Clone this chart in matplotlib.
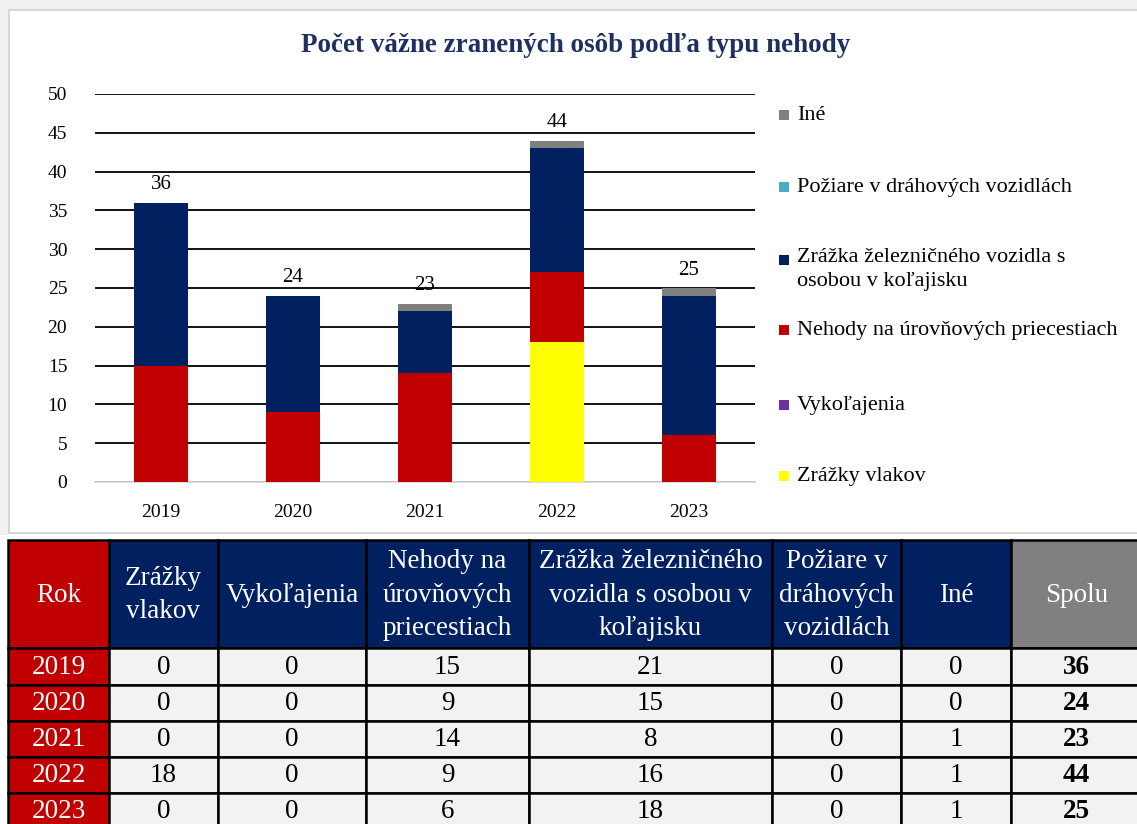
import numpy as np
import matplotlib
matplotlib.use("Agg")
import matplotlib.pyplot as plt
from matplotlib.patches import Rectangle

plt.rcParams['font.family'] = ['Liberation Serif', 'DejaVu Serif']

# data
years = ['2019', '2020', '2021', '2022', '2023']
zrazky_vlakov = [0, 0, 0, 18, 0]
vykolajenia = [0, 0, 0, 0, 0]
nehody_priecestia = [15, 9, 14, 9, 6]
zrazka_osoba = [21, 15, 8, 16, 18]
poziare = [0, 0, 0, 0, 0]
ine = [0, 0, 1, 1, 1]
spolu = [36, 24, 23, 44, 25]

series_names = ['Zrážky vlakov', 'Vykoľajenia', 'Nehody na úrovňových priecestiach',
                'Zrážka železničného vozidla s\nosobou v koľajisku',
                'Požiare v dráhových vozidlách', 'Iné']
series_vals = [zrazky_vlakov, vykolajenia, nehody_priecestia, zrazka_osoba, poziare, ine]
colors = ['#ffff00', '#7030a0', '#c00000', '#002060', '#4bacc6', '#808080']

col_heads = ['Rok', 'Zrážky\nvlakov', 'Vykoľajenia', 'Nehody na\núrovňových\npriecestiach',
             'Zrážka železničného\nvozidla s osobou v\nkoľajisku',
             'Požiare v\ndráhových\nvozidlách', 'Iné', 'Spolu']

W, H = 1137, 824
fig = plt.figure(figsize=(W / 100, H / 100), dpi=100)
fig.patch.set_facecolor('white')

# overlay in pixel coordinates (panel, title, legend, table)
ov = fig.add_axes([0, 0, 1, 1], zorder=0)
ov.set_xlim(0, W)
ov.set_ylim(H, 0)
ov.axis('off')
ov.add_patch(Rectangle((0, 0), W, 10, color='#f0f0f0', lw=0))
ov.add_patch(Rectangle((0, 0), 8, 535, color='#f0f0f0', lw=0))
ov.add_patch(Rectangle((9, 10), W, 523, facecolor='white', edgecolor='#d0d0d0', lw=1.2))

ov.text(576, 45, 'Počet vážne zranených osôb podľa typu nehody', ha='center', va='center',
        fontsize=19.5, fontweight='bold', color='#1f3060')

# chart
ax = fig.add_axes([95 / W, 1 - 482 / H, 660 / W, 388 / H], zorder=1)
ax.patch.set_alpha(0)
x = np.arange(len(years))
bottom = np.zeros(len(years))
for vals, c in zip(series_vals, colors):
    ax.bar(x, vals, 0.41, bottom=bottom, color=c, zorder=3)
    bottom += np.array(vals)
for i, t in enumerate(bottom):
    ax.text(i, t + 2.3, '%d' % t, ha='center', va='center', fontsize=15, zorder=4)

ax.set_xlim(-0.5, 4.5)
ax.set_ylim(0, 50)
ax.set_yticks(range(0, 51, 5))
ax.set_xticks(x)
ax.set_xticklabels(years)
ax.yaxis.grid(True, color='black', lw=1.3, zorder=0)
ax.set_axisbelow(True)
for s in ['top', 'right', 'left']:
    ax.spines[s].set_visible(False)
ax.spines['bottom'].set_color('#d9d9d9')
ax.spines['bottom'].set_linewidth(1.3)
ax.tick_params(length=0, labelsize=14)
ax.tick_params(axis='y', pad=20)
ax.tick_params(axis='x', pad=16)

# legend
leg_y = [115, 187, 260, 330, 405, 476]
for name, c, ly in zip(series_names[::-1], colors[::-1], leg_y):
    ov.add_patch(Rectangle((779, ly - 5), 10, 10, color=c, lw=0))
    if '\n' in name:
        ov.text(797, ly - 12, name, ha='left', va='top', fontsize=16, linespacing=1.35)
    else:
        ov.text(797, ly, name, ha='left', va='center', fontsize=16)

# table
col_edges = [8, 109, 218, 366, 529, 772, 901, 1011, 1142]
row_edges = [540, 648, 684.5, 721, 757, 793, 829]
head_colors = ['#c00000'] + ['#002060'] * 6 + ['#808080']
for j, head in enumerate(col_heads):
    x0, x1 = col_edges[j], col_edges[j + 1]
    ov.add_patch(Rectangle((x0, row_edges[0]), x1 - x0, row_edges[1] - row_edges[0],
                           facecolor=head_colors[j], edgecolor='black', lw=1.8))
    ov.text((x0 + x1) / 2, (row_edges[0] + row_edges[1]) / 2 + 1, head, ha='center',
            va='center', color='white', fontsize=19.5, linespacing=1.45)

for i, yr in enumerate(years):
    y0, y1 = row_edges[i + 1], row_edges[i + 2]
    row = [yr] + [str(v[i]) for v in series_vals] + [str(spolu[i])]
    for j, txt in enumerate(row):
        x0, x1 = col_edges[j], col_edges[j + 1]
        fc = '#c00000' if j == 0 else '#f2f2f2'
        ov.add_patch(Rectangle((x0, y0), x1 - x0, y1 - y0, facecolor=fc,
                               edgecolor='black', lw=1.8))
        ov.text((x0 + x1) / 2, (y0 + y1) / 2 + 1, txt, ha='center', va='center',
                color='white' if j == 0 else 'black', fontsize=19.5,
                fontweight='bold' if j == len(row) - 1 else 'normal')

fig.savefig('out.png', dpi=100, facecolor='white')
